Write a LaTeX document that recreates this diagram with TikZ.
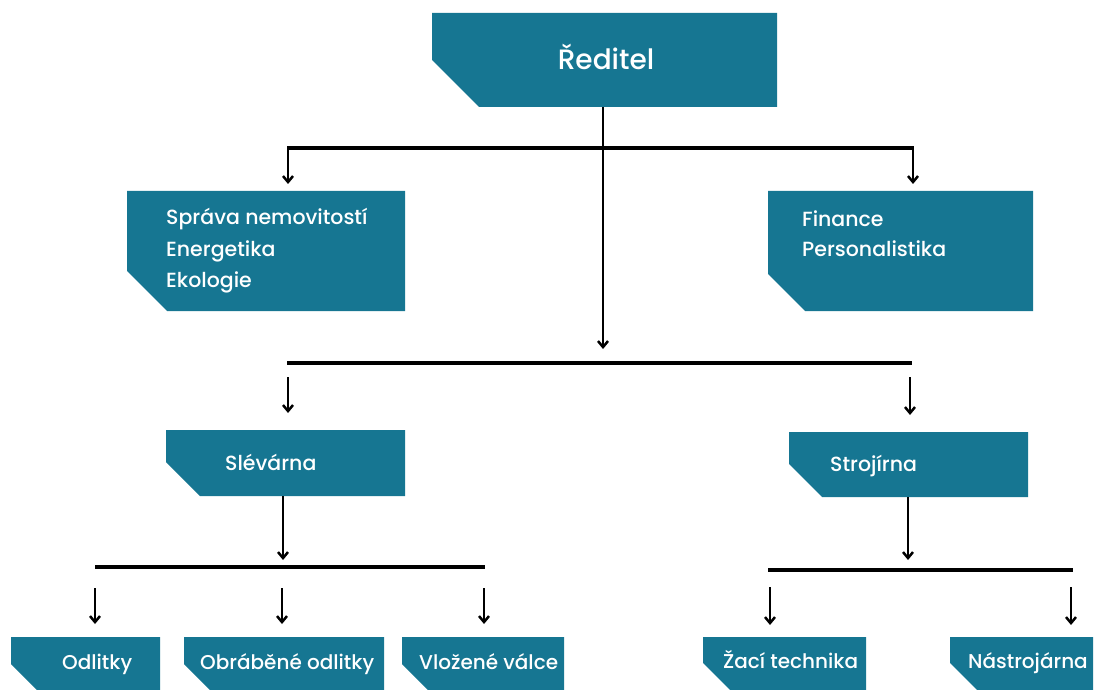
\documentclass[tikz,border=0pt]{standalone}
\usepackage{fontspec}
\setmainfont{Poppins Medium}
\usetikzlibrary{arrows.meta}
\definecolor{tealbox}{HTML}{167692}
\begin{document}
\begin{tikzpicture}[x=1pt,y=-1pt,
  cutbox/.style={draw=none, inner sep=0pt, outer sep=0pt,
    path picture={\fill[tealbox] (path picture bounding box.north west) -- (path picture bounding box.north east) -- (path picture bounding box.south east) -- ([xshift=#1]path picture bounding box.south west) -- ([yshift=#1]path picture bounding box.south west) -- cycle;}},
  txt/.style={text=white, anchor=base west, inner sep=0pt, font=\fontsize{20.5}{31}\selectfont},
  small/.style={font=\fontsize{20}{24}\selectfont},
  bus/.style={line width=3.6pt},
  arr/.style={line width=2.5pt, -{Straight Barb[length=6pt,width=10pt]}}
]
\useasboundingbox (0,0) rectangle (1104,690);
% boxes
\node[cutbox=47, minimum width=345pt, minimum height=94pt] (dir) at (604.5,60) {};
\node[cutbox=40, minimum width=278pt, minimum height=120pt] (spr) at (266,251) {};
\node[cutbox=37, minimum width=265pt, minimum height=120pt] (fin) at (900.5,251) {};
\node[cutbox=34, minimum width=239pt, minimum height=66pt] (sle) at (285.5,463) {};
\node[cutbox=33, minimum width=239pt, minimum height=65pt] (str) at (908.5,464.5) {};
\node[cutbox=26, minimum width=149pt, minimum height=53pt] (odl) at (85.5,663.5) {};
\node[cutbox=26, minimum width=200pt, minimum height=53pt] (obr) at (284,663.5) {};
\node[cutbox=26, minimum width=162pt, minimum height=53pt] (vlo) at (483,663.5) {};
\node[cutbox=27, minimum width=163pt, minimum height=53pt] (zac) at (784.5,663.5) {};
\node[cutbox=27, minimum width=143pt, minimum height=53pt] (nas) at (1021.5,663.5) {};
% texts
\node[txt, anchor=base, font=\fontsize{28}{32}\selectfont] (tdir) at (606,70) {Ředitel};
\node[txt] (tspr1) at (166,225) {Správa nemovitostí};
\node[txt] (tspr2) at (166,256) {Energetika};
\node[txt] (tspr3) at (166,287) {Ekologie};
\node[txt] (tfin1) at (802,226) {Finance};
\node[txt] (tfin2) at (802,256) {Personalistika};
\node[txt] (tsle) at (225,470) {Slévárna};
\node[txt] (tstr) at (830,471) {Strojírna};
\node[txt, small] (todl) at (62,669) {Odlitky};
\node[txt, small] (tobr) at (200,669) {Obráběné odlitky};
\node[txt, small] (tvlo) at (419,669) {Vložené válce};
\node[txt, small] (tzac) at (723,668) {Žací technika};
\node[txt, small] (tnas) at (968,668) {Nástrojárna};
% bus coordinates
\coordinate (b1l) at (288,148);
\coordinate (b1r) at (913,148);
\coordinate (b2l) at (287,363);
\coordinate (b2r) at (912,363);
\coordinate (b2m) at (603,363);
\coordinate (b2a) at (288,363);
\coordinate (b2b) at (910,363);
\coordinate (b3l) at (95,567);
\coordinate (b3m) at (283,567);
\coordinate (b3r) at (485,567);
\coordinate (b4l) at (770,570);
\coordinate (b4m) at (908,570);
\coordinate (b4r) at (1071,570);
% level 1
\draw[bus] ([xshift=-1pt]b1l) -- ([xshift=1pt]b1r);
\draw[arr] (dir.south -| b2m) -- ([yshift=14pt]b2m);
\draw[arr] (b1l) -- ([yshift=7pt]b1l |- spr.north);
\draw[arr] (b1r) -- ([yshift=7pt]b1r |- fin.north);
% level 2
\draw[bus] (b2l) -- (b2r);
\draw[arr] ([yshift=-14pt]b2a) -- ([yshift=17pt]b2a |- sle.north);
\draw[arr] ([yshift=-14pt]b2b) -- ([yshift=17pt]b2b |- str.north);
% level 3 left
\draw[arr] (sle.south -| b3m) -- ([yshift=7pt]b3m);
\draw[bus, line width=4pt] (b3l) -- (b3r);
\draw[arr] ([yshift=-21pt]b3l) -- ([yshift=13pt]b3l |- odl.north);
\draw[arr] ([xshift=-1pt,yshift=-21pt]b3m) -- ([xshift=-1pt,yshift=13pt]b3m |- obr.north);
\draw[arr] ([xshift=-1pt,yshift=-21pt]b3r) -- ([xshift=-1pt,yshift=13pt]b3r |- vlo.north);
% level 3 right
\draw[arr] (str.south -| b4m) -- ([yshift=10pt]b4m);
\draw[bus, line width=4pt] ([xshift=-2pt]b4l) -- ([xshift=2pt]b4r);
\draw[arr] ([yshift=-17pt]b4l) -- ([yshift=12pt]b4l |- zac.north);
\draw[arr] ([yshift=-17pt]b4r) -- ([yshift=12pt]b4r |- nas.north);
\end{tikzpicture}
\end{document}
